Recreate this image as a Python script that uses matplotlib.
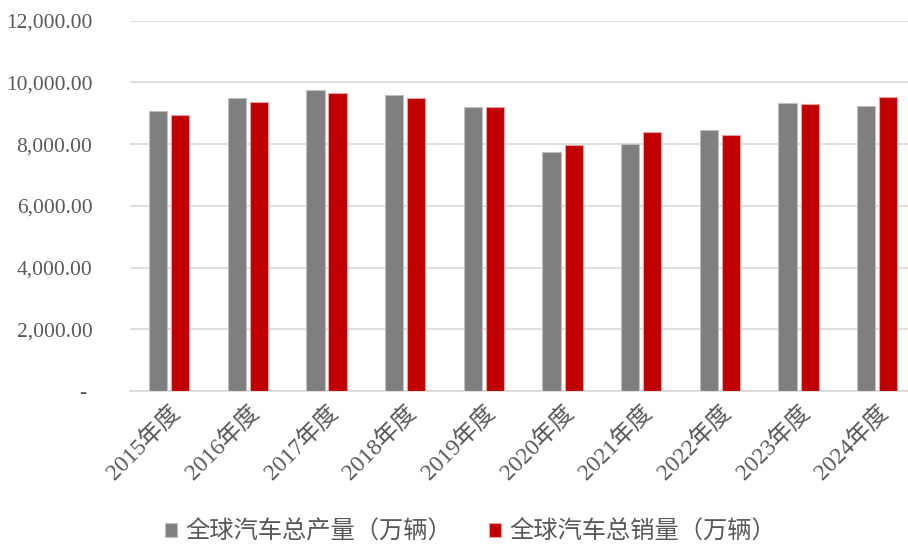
import matplotlib
matplotlib.use("Agg")
import matplotlib.pyplot as plt
import numpy as np
from matplotlib.ticker import FuncFormatter

categories = ["2015年度", "2016年度", "2017年度", "2018年度", "2019年度",
              "2020年度", "2021年度", "2022年度", "2023年度", "2024年度"]
production = [9080, 9490, 9750, 9590, 9200, 7750, 8000, 8450, 9330, 9240]
sales = [8950, 9360, 9650, 9490, 9200, 7960, 8380, 8290, 9300, 9535]
series_names = ["全球汽车总产量（万辆）", "全球汽车总销量（万辆）"]
yticks = [0, 2000, 4000, 6000, 8000, 10000, 12000]

FONT = ["Liberation Serif", "Noto Sans CJK SC", "DejaVu Sans"]
plt.rcParams["font.family"] = FONT
TXT = "#595959"

fig = plt.figure(figsize=(9.08, 5.44), dpi=100)
ax = fig.add_axes([0.1431, 0.28125, 0.8664, 0.6807])

x = np.arange(len(categories))
w = 0.232
off = 0.14
ax.bar(x - off, production, width=w, color="#7F7F7F", edgecolor="#BFBFBF",
       linewidth=0.8, label=series_names[0], zorder=3)
ax.bar(x + off, sales, width=w, color="#C00000", edgecolor="#E8A0A0",
       linewidth=0.8, label=series_names[1], zorder=3)

ax.set_xlim(-0.5, len(categories) - 0.5)
ax.set_ylim(0, 12000)
ax.set_yticks(yticks)

def fmt(v, pos):
    if v == 0:
        return "- "
    return f"{v:,.2f}"

ax.yaxis.set_major_formatter(FuncFormatter(fmt))
ax.grid(axis="y", color="#D9D9D9", linewidth=1.2, zorder=0)
for s in ["top", "right", "left"]:
    ax.spines[s].set_visible(False)
ax.spines["bottom"].set_color("#D9D9D9")
ax.spines["bottom"].set_linewidth(1.2)
ax.tick_params(axis="y", length=0, pad=27, labelsize=15.5, labelcolor=TXT)
ax.tick_params(axis="x", length=0, pad=8, labelsize=17, labelcolor=TXT)
ax.set_xticks(x)
ax.set_xticklabels(categories, rotation=45, ha="right", va="top",
                   rotation_mode="anchor")
for lbl in ax.get_xticklabels():
    lbl.set_family(FONT)

leg = fig.legend(loc="center", bbox_to_anchor=(0.518, 0.022), ncol=2,
                 frameon=False, handlelength=0.5, handleheight=0.5,
                 handletextpad=0.35, columnspacing=1.5,
                 prop={"family": FONT, "size": 17.5})
for t in leg.get_texts():
    t.set_color(TXT)

fig.savefig("out.png", dpi=100)
